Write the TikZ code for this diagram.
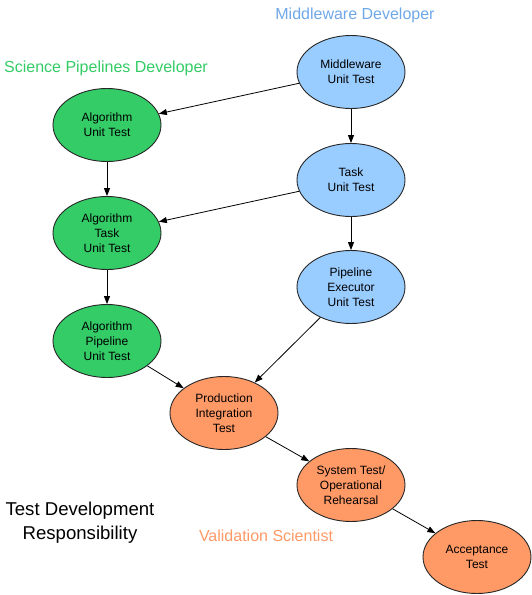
\documentclass[tikz,border=0pt]{standalone}
\usepackage{fontspec}
\setmainfont{Liberation Sans}
\usetikzlibrary{shapes.geometric,arrows.meta}
\definecolor{mwfill}{HTML}{99CCFF}
\definecolor{spfill}{HTML}{33CC66}
\definecolor{vsfill}{HTML}{FF9966}
\definecolor{mwtext}{HTML}{6FA8E8}
\definecolor{sptext}{HTML}{33CC66}
\definecolor{vstext}{HTML}{FF9966}
\tikzset{
  tnode/.style={ellipse, draw=black!85, line width=0.9pt, minimum width=108pt, minimum height=73pt, inner sep=0pt, align=center, font=\fontsize{12}{14.8}\selectfont},
  mw/.style={tnode, fill=mwfill},
  sp/.style={tnode, fill=spfill},
  vs/.style={tnode, fill=vsfill},
  conn/.style={line width=0.8pt, -{Triangle[length=8pt,width=6pt]}},
  grouplabel/.style={font=\fontsize{16}{19}\selectfont, inner sep=0pt}
}
\begin{document}
\begin{tikzpicture}[x=1pt,y=-1pt]
\useasboundingbox (0,0) rectangle (532,595);
\node[mw] (mwu) at (351,72) {Middleware\\Unit Test};
\node[sp] (alg) at (107,125) {Algorithm\\Unit Test};
\node[mw] (task) at (351,180) {Task\\Unit Test};
\node[sp] (algtask) at (107,233) {Algorithm\\Task\\Unit Test};
\node[mw] (pexec) at (351,287) {Pipeline\\Executor\\Unit Test};
\node[sp] (algpipe) at (107,341) {Algorithm\\Pipeline\\Unit Test};
\node[vs] (prod) at (224,413) {Production\\Integration\\Test};
\node[vs] (sys) at (351,485) {System Test/\\Operational\\Rehearsal};
\node[vs] (acc) at (477,557) {Acceptance\\Test};

\node[grouplabel, text=mwtext] (lmw) at (355,15) {Middleware Developer};
\node[grouplabel, text=sptext] (lsp) at (106,68) {Science Pipelines Developer};
\node[grouplabel, text=vstext] (lvs) at (266,536) {Validation Scientist};
\node[font=\fontsize{18.6}{24}\selectfont, align=center, inner sep=0pt] (ltitle) at (80,523) {Test Development\\Responsibility};

\draw[conn] (mwu) -- (alg);
\draw[conn] (mwu) -- (task);
\draw[conn] (task) -- (algtask);
\draw[conn] (task) -- (pexec);
\draw[conn] (alg) -- (algtask);
\draw[conn] (algtask) -- (algpipe);
\draw[conn] (algpipe) -- (prod);
\draw[conn] (pexec) -- (prod);
\draw[conn] (prod) -- (sys);
\draw[conn] (sys) -- (acc);
\end{tikzpicture}
\end{document}
